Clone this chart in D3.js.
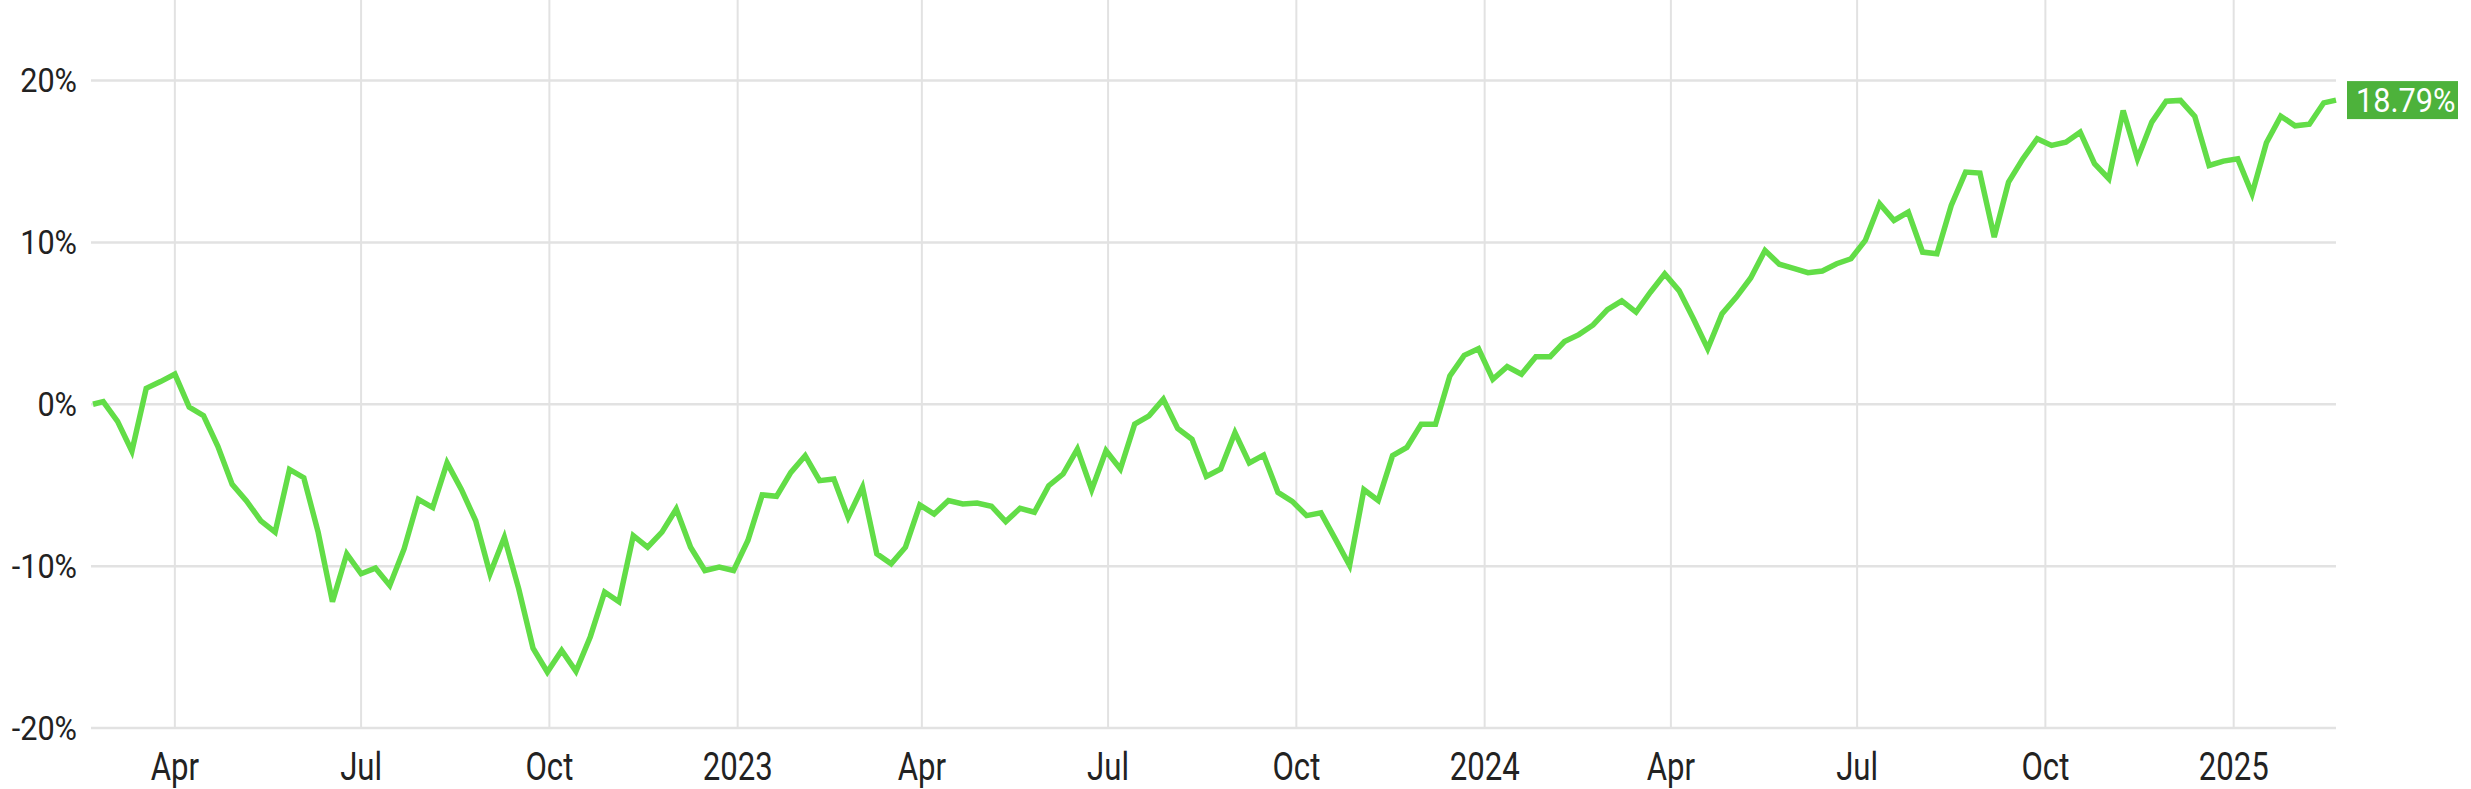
<!DOCTYPE html>
<html>
<head>
<meta charset="utf-8">
<script src="https://cdn.jsdelivr.net/npm/d3@7"></script>
<style>
  html, body { margin: 0; padding: 0; background: #ffffff; }
  svg { display: block; }
</style>
</head>
<body>
<script>
// ---- Data ----
// First point, then weekly Friday closes, then the last (partial-week) point.
const firstDate = "2022-02-20";
const firstFriday = "2022-02-25";
const fridayCount = 156;
const lastDate = "2025-02-20";

const values = [
  0.0, 0.16, -1.06, -2.9, 0.98, 1.4, 1.86, -0.18, -0.7, -2.6,
  -4.95, -5.97, -7.2, -7.9, -4.03, -4.54, -7.9, -12.2, -9.24, -10.47,
  -10.12, -11.19, -8.94, -5.87, -6.38, -3.62, -5.26, -7.2, -10.47, -8.22,
  -11.39, -15.07, -16.54, -15.21, -16.5, -14.36, -11.6, -12.2, -8.12, -8.83,
  -7.9, -6.47, -8.83, -10.27, -10.06, -10.27, -8.42, -5.6, -5.69, -4.21,
  -3.18, -4.72, -4.62, -6.98, -5.13, -9.24, -9.86, -8.83, -6.22, -6.78,
  -5.95, -6.16, -6.1, -6.3, -7.25, -6.43, -6.67, -5.03, -4.31, -2.77,
  -5.28, -2.87, -4.0, -1.23, -0.72, 0.31, -1.5, -2.16, -4.46, -4.0,
  -1.75, -3.63, -3.14, -5.44, -6.0, -6.88, -6.71, -8.32, -9.96, -5.28,
  -5.95, -3.18, -2.67, -1.23, -1.23, 1.75, 3.02, 3.43, 1.54, 2.32,
  1.85, 2.94, 2.94, 3.87, 4.3, 4.9, 5.85, 6.39, 5.69, 6.92,
  8.05, 7.02, 5.28, 3.43, 5.59, 6.62, 7.8, 9.5, 8.65, 8.4,
  8.13, 8.23, 8.68, 8.99, 10.12, 12.39, 11.36, 11.87, 9.4, 9.3,
  12.28, 14.34, 14.28, 10.33, 13.72, 15.16, 16.4, 15.99, 16.19, 16.81,
  14.86, 13.93, 18.15, 15.16, 17.43, 18.72, 18.77, 17.78, 14.75, 15.02,
  15.16, 13.0, 16.15, 17.8, 17.2, 17.3, 18.62, 18.79
];

const xTickDates = ["2022-04-01","2022-07-01","2022-10-01","2023-01-01","2023-04-01","2023-07-01",
                    "2023-10-01","2024-01-01","2024-04-01","2024-07-01","2024-10-01","2025-01-01"];
const xTickLabels = ["Apr","Jul","Oct","2023","Apr","Jul","Oct","2024","Apr","Jul","Oct","2025"];
const yTicks = [-20, -10, 0, 10, 20];
const yTickLabels = ["-20%","-10%","0%","10%","20%"];
const lastLabel = "18.79%";

// ---- Build the date list ----
const parse = d3.utcParse("%Y-%m-%d");
const dates = [parse(firstDate)];
const f0 = parse(firstFriday);
for (let k = 0; k < fridayCount; k++) dates.push(d3.utcDay.offset(f0, 7 * k));
dates.push(parse(lastDate));
const data = dates.map((d, i) => ({ date: d, value: values[i] }));

// ---- Chart ----
const W = 2471, H = 789;
const svg = d3.select("body").append("svg").attr("width", W).attr("height", H);
svg.append("rect").attr("width", W).attr("height", H).attr("fill", "#ffffff");

const x = d3.scaleUtc().domain([parse(firstDate), parse(lastDate)]).range([93, 2336]);
const y = d3.scaleLinear().domain([-20, 20]).range([728, 80.5]);

const grid = svg.append("g");
grid.selectAll("line.h").data(yTicks).join("line")
  .attr("class", "h")
  .attr("x1", 91).attr("x2", x.range()[1])
  .attr("y1", d => y(d)).attr("y2", d => y(d))
  .attr("stroke", "#e2e2e2").attr("stroke-width", 2.5);
grid.selectAll("line.v").data(xTickDates).join("line")
  .attr("class", "v")
  .attr("x1", d => x(parse(d))).attr("x2", d => x(parse(d)))
  .attr("y1", 0).attr("y2", y(-20))
  .attr("stroke", "#e2e2e2").attr("stroke-width", 2);

svg.append("g").selectAll("text").data(yTicks).join("text")
  .attr("transform", d => `translate(77,${y(d)}) scale(0.9,1)`)
  .attr("text-anchor", "end")
  .attr("dominant-baseline", "central")
  .attr("font-family", "Roboto, 'Noto Sans', sans-serif")
  .attr("font-size", 34)
  .attr("fill", "#222222")
  .text((d, i) => yTickLabels[i]);

svg.append("g").selectAll("text").data(xTickDates).join("text")
  .attr("transform", d => `translate(${x(parse(d))},780) scale(0.82,1)`)
  .attr("text-anchor", "middle")
  .attr("font-family", "Roboto, 'Noto Sans', sans-serif")
  .attr("font-size", 38)
  .attr("fill", "#222222")
  .text((d, i) => xTickLabels[i]);

const line = d3.line().x(d => x(d.date)).y(d => y(d.value));
svg.append("path").datum(data)
  .attr("d", line)
  .attr("fill", "none")
  .attr("stroke", "#62dd47")
  .attr("stroke-width", 5.5)
  .attr("stroke-linejoin", "miter");

const last = data[data.length - 1];
const lx = x(last.date) + 11, ly = y(last.value);
svg.append("rect")
  .attr("x", lx).attr("y", ly - 19)
  .attr("width", 111).attr("height", 38)
  .attr("fill", "#4db23b");
svg.append("text")
  .attr("transform", `translate(${lx + 9},${ly + 1}) scale(0.93,1)`)
  .attr("dominant-baseline", "central")
  .attr("font-family", "Roboto, 'Noto Sans', sans-serif")
  .attr("font-size", 33)
  .attr("fill", "#ffffff")
  .text(lastLabel);
</script>
</body>
</html>
